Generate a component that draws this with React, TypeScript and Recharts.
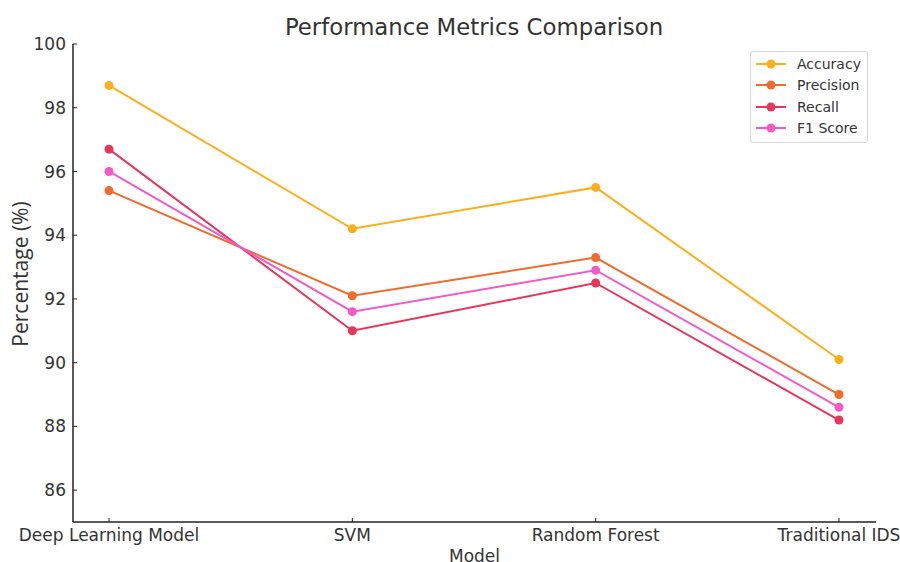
import React from 'react';
import { LineChart, Line, XAxis, YAxis } from 'recharts';

const models = ['Deep Learning Model', 'SVM', 'Random Forest', 'Traditional IDS'];
const accuracy = [98.7, 94.2, 95.5, 90.1];
const precision = [95.4, 92.1, 93.3, 89.0];
const recall = [96.7, 91.0, 92.5, 88.2];
const f1Score = [96.0, 91.6, 92.9, 88.6];
const yTicks = [86, 88, 90, 92, 94, 96, 98, 100];

const seriesDefs = [
  { key: 'accuracy', name: 'Accuracy', color: '#FBAF1A' },
  { key: 'precision', name: 'Precision', color: '#F06B2C' },
  { key: 'recall', name: 'Recall', color: '#E8365A' },
  { key: 'f1', name: 'F1 Score', color: '#F25AC6' },
];

const data = models.map((m, i) => ({
  model: m,
  accuracy: accuracy[i],
  precision: precision[i],
  recall: recall[i],
  f1: f1Score[i],
}));

const FONT = '"DejaVu Sans", sans-serif';
const TEXT = '#333333';
const AXIS = '#222222';
const TICK_FS = 17;

const LegendBox = () => (
  <div
    style={{
      position: 'absolute',
      top: 51,
      left: 750,
      border: '1px solid #d6d6d6',
      borderRadius: 3,
      background: '#fff',
      padding: '1px 6px 3px 4px',
      fontFamily: FONT,
      fontSize: 14,
      color: TEXT,
      width: 106,
    }}
  >
    {seriesDefs.map((s) => (
      <div key={s.key} style={{ display: 'flex', alignItems: 'center', height: 21.5 }}>
        <svg width={34} height={12} style={{ marginRight: 8 }}>
          <line x1={1} y1={6} x2={31} y2={6} stroke={s.color} strokeWidth={2} />
          <circle cx={16} cy={6} r={4.5} fill={s.color} />
        </svg>
        <span>{s.name}</span>
      </div>
    ))}
  </div>
);

const YLabel = (props: any) => {
  const vb = props.viewBox || { x: 0, y: 0, width: 73, height: 0 };
  const cx = vb.x + 20;
  const cy = vb.y + vb.height / 2 - 9;
  return (
    <text
      x={cx}
      y={cy}
      transform={`rotate(-90 ${cx} ${cy})`}
      textAnchor="middle"
      dominantBaseline="central"
      fontFamily='"Open Sans", sans-serif'
      fontSize={21}
      fill={TEXT}
    >
      Percentage (%)
    </text>
  );
};

export default function App() {
  return (
    <div style={{ position: 'absolute', left: 0, top: 0, width: 900, height: 562, background: '#fff' }}>
      <div
        style={{
          position: 'absolute',
          left: 73,
          width: 802,
          top: 13,
          textAlign: 'center',
          fontFamily: FONT,
          fontSize: 22.8,
          color: TEXT,
          lineHeight: '28px',
        }}
      >
        Performance Metrics Comparison
      </div>
      <LineChart
        width={900}
        height={562}
        data={data}
        margin={{ top: 44, right: 24, left: 0, bottom: 0 }}
      >
        <XAxis
          dataKey="model"
          height={40}
          padding={{ left: 36, right: 37 }}
          axisLine={{ stroke: AXIS, strokeWidth: 1.5 }}
          tickLine={{ stroke: AXIS, strokeWidth: 1 }}
          tickSize={-4}
          tickMargin={11}
          tick={{ fill: TEXT, fontFamily: FONT, fontSize: TICK_FS }}
          interval={0}
          label={{ value: 'Model', position: 'insideBottom', offset: 0, fill: TEXT, fontFamily: FONT, fontSize: TICK_FS }}
        />
        <YAxis
          width={73}
          domain={[85, 100]}
          ticks={yTicks}
          allowDataOverflow
          axisLine={{ stroke: AXIS, strokeWidth: 1.5 }}
          tickLine={{ stroke: AXIS, strokeWidth: 1 }}
          tickSize={-4}
          tickMargin={11}
          tick={{ fill: TEXT, fontFamily: FONT, fontSize: TICK_FS }}
          label={<YLabel />}
        />
        {seriesDefs.map((s) => (
          <Line
            key={s.key}
            type="linear"
            dataKey={s.key}
            name={s.name}
            stroke={s.color}
            strokeWidth={2}
            dot={{ r: 4.5, fill: s.color, stroke: s.color, strokeWidth: 0 }}
            activeDot={false}
            isAnimationActive={false}
          />
        ))}
      </LineChart>
      <LegendBox />
    </div>
  );
}
